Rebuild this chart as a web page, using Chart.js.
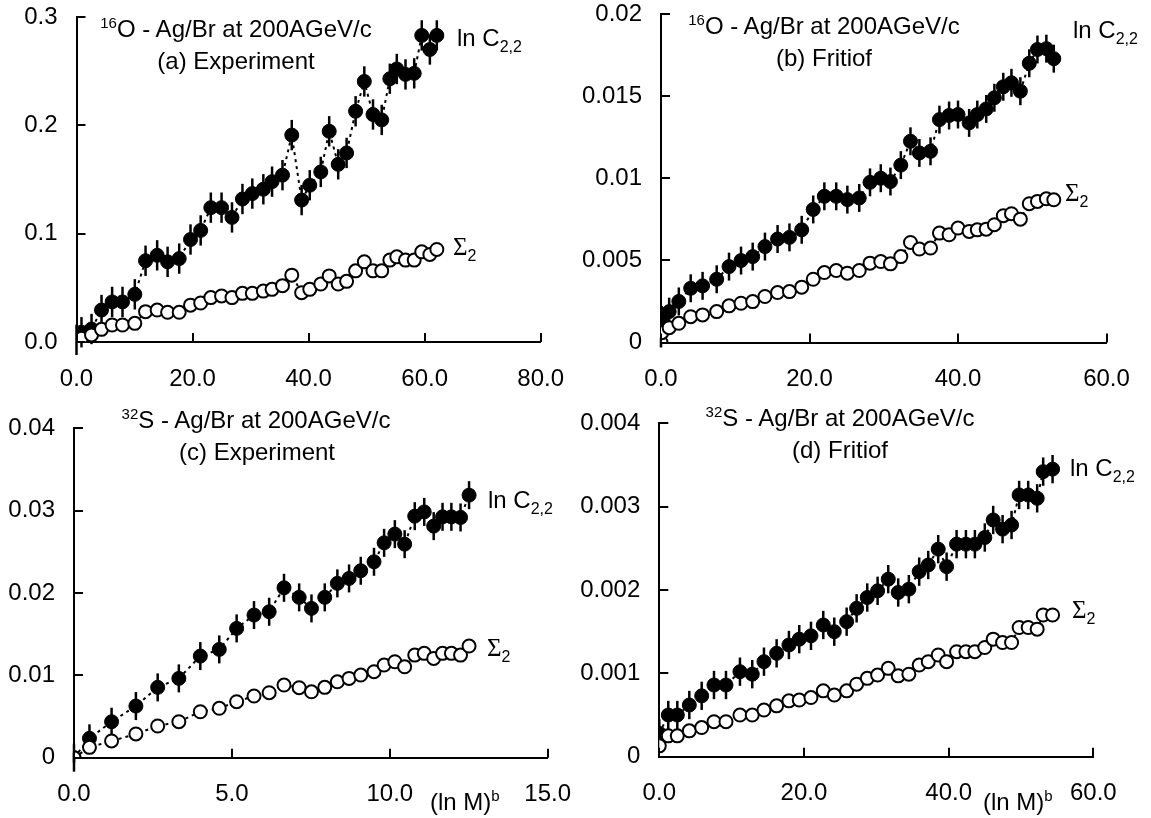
<!DOCTYPE html>
<html>
<head>
<meta charset="utf-8">
<script src="https://cdn.jsdelivr.net/npm/chart.js@4.4.1/dist/chart.umd.min.js"></script>
<style>
  body { margin: 0; background: #fff; width: 1151px; height: 818px; position: relative; overflow: hidden;
         font-family: "Liberation Sans", Arial, sans-serif; color: #000; }
  canvas { position: absolute; }
  .t { position: absolute; transform: translate(-50%, -50%); font-size: 24px; white-space: nowrap; }
  .l { position: absolute; transform: translateY(-50%); font-size: 24px; white-space: nowrap; }
  .sig { font-family: "Liberation Serif", "Times New Roman", serif; font-size: 25px; }
  sup { font-size: 15px; vertical-align: 9px; line-height: 0; }
  sub { font-size: 16px; vertical-align: -6px; line-height: 0; }
</style>
</head>
<body>
<canvas id="pa" width="575" height="409" style="left:0;top:0"></canvas>
<canvas id="pb" width="576" height="409" style="left:575px;top:0"></canvas>
<canvas id="pc" width="575" height="409" style="left:0;top:409px"></canvas>
<canvas id="pd" width="576" height="409" style="left:575px;top:409px"></canvas>

<div class="t" style="left:236px;top:29px"><sup>16</sup>O - Ag/Br at 200AGeV/c</div>
<div class="t" style="left:236px;top:61px">(a) Experiment</div>
<div class="l" style="left:457px;top:38px">ln C<sub>2,2</sub></div>
<div class="l" style="left:453px;top:247px"><span class="sig">Σ</span><sub>2</sub></div>

<div class="t" style="left:824px;top:26px"><sup>16</sup>O - Ag/Br at 200AGeV/c</div>
<div class="t" style="left:824px;top:58px">(b) Fritiof</div>
<div class="l" style="left:1073px;top:30px">ln C<sub>2,2</sub></div>
<div class="l" style="left:1065px;top:193px"><span class="sig">Σ</span><sub>2</sub></div>

<div class="t" style="left:256px;top:420px"><sup>32</sup>S - Ag/Br at 200AGeV/c</div>
<div class="t" style="left:257px;top:452px">(c) Experiment</div>
<div class="l" style="left:488px;top:500px">ln C<sub>2,2</sub></div>
<div class="l" style="left:487px;top:648px"><span class="sig">Σ</span><sub>2</sub></div>
<div class="l" style="left:430px;top:802px">(ln M)<sup>b</sup></div>

<div class="t" style="left:840px;top:418px"><sup>32</sup>S - Ag/Br at 200AGeV/c</div>
<div class="t" style="left:840px;top:450px">(d) Fritiof</div>
<div class="l" style="left:1070px;top:468px">ln C<sub>2,2</sub></div>
<div class="l" style="left:1072px;top:610px"><span class="sig">Σ</span><sub>2</sub></div>
<div class="l" style="left:983px;top:802px">(ln M)<sup>b</sup></div>

<script>
// (a) 16O experiment
const xA = [0, 0.86, 2.59, 4.31, 6.14, 7.93, 10.05, 11.9, 13.9, 15.7, 17.7, 19.65, 21.4, 23.15, 25.0, 26.8, 28.6, 30.3, 32.2, 33.7,
            35.5, 37.1, 38.8, 40.2, 42.1, 43.55, 45.1, 46.55, 48.1, 49.6, 51.1, 52.6, 54.0, 55.2, 56.7, 58.2, 59.5, 60.9, 62.1];
const lnCA = [0.002, 0.009, 0.012, 0.0295, 0.037, 0.037, 0.044, 0.075, 0.080, 0.074, 0.077, 0.0946, 0.103, 0.124, 0.124, 0.115, 0.132, 0.137, 0.141, 0.148,
              0.154, 0.191, 0.131, 0.1447, 0.157, 0.1945, 0.164, 0.1745, 0.213, 0.2405, 0.210, 0.205, 0.243, 0.252, 0.247, 0.248, 0.283, 0.270, 0.283];
const sigA = [0, 0.0035, 0.0065, 0.0117, 0.0157, 0.0157, 0.0172, 0.028, 0.0295, 0.0274, 0.0274, 0.034, 0.036, 0.041, 0.0425, 0.041, 0.0449, 0.0449, 0.047, 0.0486,
              0.052, 0.0617, 0.0455, 0.0486, 0.0535, 0.061, 0.0535, 0.056, 0.0657, 0.074, 0.0657, 0.0657, 0.0756, 0.0786, 0.0756, 0.0756, 0.0832, 0.0808, 0.0854];
const errA = [0.014, 0];
const xTicksA = [0, 20, 40, 60, 80];
const xLabelsA = ['0.0', '20.0', '40.0', '60.0', '80.0'];
const yTicksA = [0, 0.1, 0.2, 0.3];
const yLabelsA = ['0.0', '0.1', '0.2', '0.3'];

// (b) 16O Fritiof
const xB = [0, 0.1, 1.1, 2.4, 4.0, 5.6, 7.5, 9.16, 10.78, 12.35, 14.0, 15.7, 17.3, 18.95, 20.5, 22.0, 23.6, 25.1, 26.7, 28.15,
            29.6, 30.9, 32.3, 33.6, 34.8, 36.3, 37.5, 38.8, 40.0, 41.5, 42.6, 43.8, 44.9, 46.1, 47.2, 48.4, 49.6, 50.7, 51.9, 52.9];
const lnCB = [null, 0.00137, 0.00188, 0.0025, 0.0033, 0.00345, 0.00385, 0.00462, 0.00499, 0.00523, 0.00584, 0.0063, 0.0064, 0.00686, 0.0081, 0.0089, 0.0089, 0.0087, 0.0088, 0.00975,
              0.0100, 0.0098, 0.0108, 0.01225, 0.01154, 0.01164, 0.01357, 0.01382, 0.01388, 0.01337, 0.01388, 0.01422, 0.0149, 0.01557, 0.01581, 0.0153, 0.0170, 0.01784, 0.01789, 0.01728];
const sigB = [0, 0.0006, 0.0009, 0.00117, 0.00157, 0.00168, 0.00188, 0.00223, 0.00239, 0.00249, 0.0028, 0.00304, 0.0031, 0.00337, 0.00385, 0.00426, 0.00438, 0.00422, 0.00438, 0.00483,
              0.00493, 0.00479, 0.00523, 0.00609, 0.00569, 0.00575, 0.00666, 0.00656, 0.00697, 0.00676, 0.00686, 0.0069, 0.00717, 0.00772, 0.00784, 0.00751, 0.00845, 0.00859, 0.00875, 0.00869];
const errB = [0.00085, 0.0003];
const xTicksB = [0, 20, 40, 60];
const xLabelsB = ['0.0', '20.0', '40.0', '60.0'];
const yTicksB = [0, 0.005, 0.01, 0.015, 0.02];
const yLabelsB = ['0', '0.005', '0.01', '0.015', '0.02'];

// (c) 32S experiment
const xC = [0, 0.49, 1.19, 1.96, 2.65, 3.32, 4.0, 4.6, 5.15, 5.70, 6.18, 6.65, 7.13, 7.52, 7.94, 8.34, 8.71, 9.08, 9.5, 9.82,
            10.16, 10.47, 10.79, 11.09, 11.39, 11.67, 11.95, 12.24, 12.51];
const lnCC = [0, 0.00235, 0.00437, 0.00627, 0.00854, 0.00963, 0.01234, 0.01315, 0.0157, 0.01732, 0.01772, 0.02063, 0.01947, 0.01813, 0.01947, 0.02117, 0.02177, 0.0227, 0.02379, 0.02609,
              0.02715, 0.02593, 0.02933, 0.02985, 0.02812, 0.02925, 0.02925, 0.02917, 0.03188];
const sigC = [0, 0.00126, 0.00203, 0.00288, 0.00385, 0.00437, 0.00558, 0.006, 0.0068, 0.00749, 0.00789, 0.00882, 0.0085, 0.008, 0.00854, 0.00922, 0.00963, 0.01004, 0.01044, 0.01125,
              0.01165, 0.01104, 0.01246, 0.01267, 0.01206, 0.01267, 0.01267, 0.01246, 0.01356];
const errC = [0.0017, 0.0006];
const xTicksC = [0, 5, 10, 15];
const xLabelsC = ['0.0', '5.0', '10.0', '15.0'];
const yTicksC = [0, 0.01, 0.02, 0.03, 0.04];
const yLabelsC = ['0', '0.01', '0.02', '0.03', '0.04'];

// (d) 32S Fritiof
const xD = [0, 1.24, 2.49, 4.15, 5.86, 7.56, 9.22, 11.15, 12.85, 14.47, 16.22, 17.92, 19.35, 20.97, 22.67, 24.19, 25.9, 27.28, 28.75, 30.18,
            31.65, 33.03, 34.5, 35.93, 37.18, 38.56, 39.72, 41.1, 42.39, 43.63, 45.0, 46.16, 47.46, 48.7, 49.75, 51.0, 52.24, 53.07, 54.37];
const lnCD = [0.00028, 0.0005, 0.0005, 0.00062, 0.00073, 0.00086, 0.00086, 0.00102, 0.00099, 0.00114, 0.00124, 0.00134, 0.00141, 0.00145, 0.00158, 0.0015, 0.00162, 0.00178, 0.00191, 0.00199,
              0.00213, 0.00197, 0.00201, 0.00222, 0.0023, 0.00249, 0.00228, 0.00255, 0.00255, 0.00255, 0.00263, 0.00284, 0.00273, 0.00278, 0.00314, 0.00314, 0.0031, 0.00342, 0.00345];
const sigD = [0.00013, 0.00025, 0.00025, 0.00031, 0.00035, 0.00042, 0.00042, 0.0005, 0.0005, 0.00056, 0.00061, 0.00067, 0.00068, 0.00071, 0.00079, 0.00074, 0.00079, 0.00087, 0.00094, 0.00098,
              0.00106, 0.00097, 0.00099, 0.0011, 0.00114, 0.00122, 0.00114, 0.00126, 0.00126, 0.00126, 0.00131, 0.00141, 0.00137, 0.00137, 0.00155, 0.00155, 0.00153, 0.0017, 0.0017];
const errD = [0.00017, 0.00007];
const xTicksD = [0, 20, 40, 60];
const xLabelsD = ['0.0', '20.0', '40.0', '60.0'];
const yTicksD = [0, 0.001, 0.002, 0.003, 0.004];
const yLabelsD = ['0', '0.001', '0.002', '0.003', '0.004'];

const FONT = { family: '"Liberation Sans", Arial, sans-serif', size: 24, lineHeight: 1 };

function points(xs, ys) {
  return xs.map((x, i) => ({ x: x, y: ys[i] })).filter(p => p.y !== null);
}

// vertical error bars, drawn under the markers
const errorBars = {
  id: 'errorBars',
  beforeDatasetsDraw(chart) {
    const { ctx, scales: { x, y } } = chart;
    ctx.save();
    ctx.strokeStyle = '#000';
    ctx.lineWidth = 2.5;
    chart.data.datasets.forEach(ds => {
      if (!ds.err) return;
      ds.data.forEach(p => {
        const px = x.getPixelForValue(p.x);
        ctx.beginPath();
        ctx.moveTo(px, y.getPixelForValue(p.y - ds.err));
        ctx.lineTo(px, y.getPixelForValue(p.y + ds.err));
        ctx.stroke();
      });
    });
    ctx.restore();
  }
};

// tick marks pointing into the plot
const innerTicks = {
  id: 'innerTicks',
  afterDraw(chart) {
    const { ctx, chartArea: a, scales: { x, y } } = chart;
    ctx.save();
    ctx.strokeStyle = '#000';
    ctx.lineWidth = 2;
    x.ticks.forEach(t => {
      const px = Math.round(x.getPixelForValue(t.value));
      ctx.beginPath(); ctx.moveTo(px, a.bottom); ctx.lineTo(px, a.bottom - 9); ctx.stroke();
    });
    y.ticks.forEach(t => {
      const py = Math.round(y.getPixelForValue(t.value));
      ctx.beginPath(); ctx.moveTo(a.left, py); ctx.lineTo(a.left + 9, py); ctx.stroke();
    });
    ctx.restore();
  }
};

function makePanel(id, p) {
  new Chart(document.getElementById(id), {
    type: 'scatter',
    data: {
      datasets: [
        {
          data: points(p.xs, p.sig), err: p.err[1], showLine: true,
          borderColor: '#000', borderWidth: 2, borderDash: [3, 4],
          pointRadius: 6.5, pointBorderWidth: 2, pointBorderColor: '#000', pointBackgroundColor: '#fff'
        },
        {
          data: points(p.xs, p.lnc), err: p.err[0], showLine: true,
          borderColor: '#000', borderWidth: 2, borderDash: [3, 4],
          pointRadius: 7, pointBorderWidth: 1, pointBorderColor: '#000', pointBackgroundColor: '#000'
        }
      ]
    },
    options: {
      responsive: false,
      animation: false,
      layout: { padding: { top: p.top, right: p.right, left: 0, bottom: 0 } },
      plugins: { legend: { display: false }, tooltip: { enabled: false } },
      scales: {
        x: {
          type: 'linear', min: p.xTicks[0], max: p.xTicks[p.xTicks.length - 1],
          afterBuildTicks: s => { s.ticks = p.xTicks.map(v => ({ value: v })); },
          afterFit: s => { s.height = p.bottom; s.paddingLeft = 0; s.paddingRight = 0; s.paddingTop = 0; s.paddingBottom = 0; },
          grid: { display: false, drawTicks: false },
          border: { color: '#000', width: 2 },
          ticks: { color: '#000', font: FONT, padding: 25, maxRotation: 0,
                   callback: v => p.xLabels[p.xTicks.indexOf(v)] }
        },
        y: {
          type: 'linear', min: p.yTicks[0], max: p.yTicks[p.yTicks.length - 1],
          afterBuildTicks: s => { s.ticks = p.yTicks.map(v => ({ value: v })); },
          afterFit: s => { s.width = p.left; s.paddingLeft = 0; s.paddingRight = 0; s.paddingTop = 0; s.paddingBottom = 0; },
          grid: { display: false, drawTicks: false },
          border: { color: '#000', width: 2 },
          ticks: { color: '#000', font: FONT, padding: 19,
                   callback: v => p.yLabels[p.yTicks.indexOf(v)] }
        }
      }
    },
    plugins: [errorBars, innerTicks]
  });
}

makePanel('pa', { xs: xA, lnc: lnCA, sig: sigA, err: errA, xTicks: xTicksA, xLabels: xLabelsA, yTicks: yTicksA, yLabels: yLabelsA,
                  left: 76.5, right: 34.3, top: 17, bottom: 67 });
makePanel('pb', { xs: xB, lnc: lnCB, sig: sigB, err: errB, xTicks: xTicksB, xLabels: xLabelsB, yTicks: yTicksB, yLabels: yLabelsB,
                  left: 86, right: 44.5, top: 14, bottom: 66.5 });
makePanel('pc', { xs: xC, lnc: lnCC, sig: sigC, err: errC, xTicks: xTicksC, xLabels: xLabelsC, yTicks: yTicksC, yLabels: yLabelsC,
                  left: 74, right: 27.3, top: 19.3, bottom: 60.3 });
makePanel('pd', { xs: xD, lnc: lnCD, sig: sigD, err: errD, xTicks: xTicksD, xLabels: xLabelsD, yTicks: yTicksD, yLabels: yLabelsD,
                  left: 84.3, right: 57.7, top: 14.3, bottom: 61.3 });
</script>
</body>
</html>
